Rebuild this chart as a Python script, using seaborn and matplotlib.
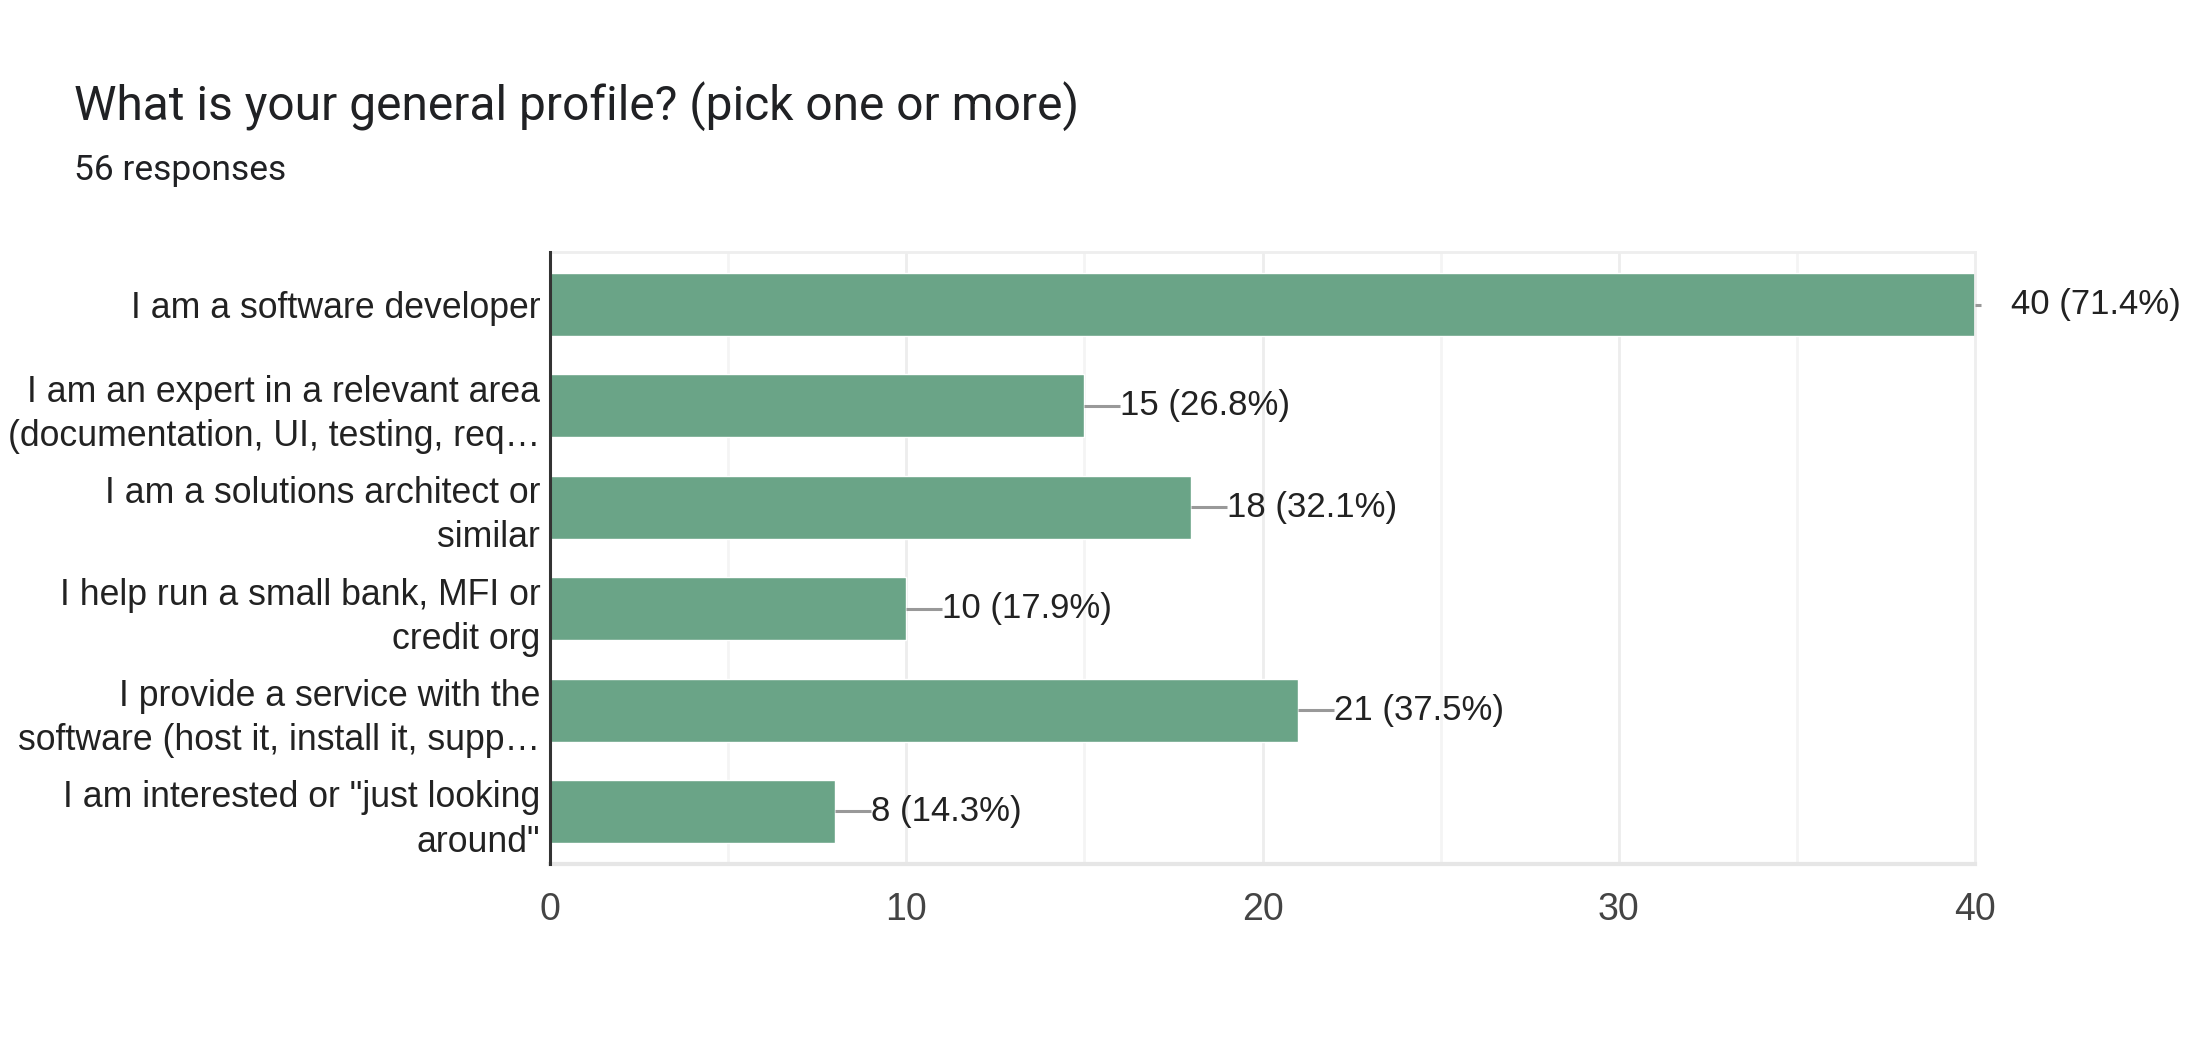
import numpy as np
import pandas as pd
import matplotlib
matplotlib.use('Agg')
import matplotlib.pyplot as plt
import seaborn as sns

# survey answers, top to bottom as in the form chart
categories = [
    "I am a software developer",
    "I am an expert in a relevant area\n(documentation, UI, testing, req\u2026",
    "I am a solutions architect or\nsimilar",
    "I help run a small bank, MFI or\ncredit org",
    "I provide a service with the\nsoftware (host it, install it, supp\u2026",
    "I am interested or \"just looking\naround\"",
]
counts = [40, 15, 18, 10, 21, 8]
total_responses = 56
x_ticks = [0, 10, 20, 30, 40]

title = "What is your general profile? (pick one or more)"
subtitle = f"{total_responses} responses"

df = pd.DataFrame({'answer': categories, 'count': counts})

sns.set_theme(style='white')
plt.rcParams['font.family'] = ['Liberation Sans', 'DejaVu Sans']

W, H, DPI = 2196, 1044, 100
fig = plt.figure(figsize=(W / DPI, H / DPI), dpi=DPI)
ax = fig.add_axes([550 / W, 1 - 864 / H, (1975 - 550) / W, (864 - 252) / H])

sns.barplot(data=df, x='count', y='answer', orient='h', color='#6aa487',
            saturation=1, width=0.62, ax=ax)

ax.set_xlim(0, 40)
ax.set_ylim(5.518, -0.518)
ax.set_xlabel('')
ax.set_ylabel('')

# grid: every 5, light grey
for v in range(5, 40, 5):
    ax.axvline(v, color='#ededed' if v % 10 == 0 else '#f4f4f4', lw=2, zorder=0)

for side in ['top', 'right']:
    ax.spines[side].set_color('#eeeeee')
    ax.spines[side].set_linewidth(2)
ax.spines['bottom'].set_color('#e6e6e6')
ax.spines['bottom'].set_linewidth(3)
ax.spines['left'].set_color('#333333')
ax.spines['left'].set_linewidth(2.2)
ax.spines['left'].set_zorder(5)

ax.set_xticks(x_ticks)
ax.set_xticklabels([str(t) for t in x_ticks])
ax.tick_params(axis='x', length=0, pad=20, labelsize=27, labelcolor='#444444')
ax.tick_params(axis='y', length=0, pad=7, labelsize=25.7, labelcolor='#222222')
for lab in ax.get_yticklabels():
    lab.set_linespacing(1.34)

# value labels with small leader lines
px = 40 / (1975 - 550)  # data units per pixel
for i, c in enumerate(counts):
    lead = 6 if c == max(counts) else 36
    ax.plot([c, c + lead * px], [i, i], color='#999999', lw=2.2,
            solid_capstyle='butt', clip_on=False, zorder=4)
    ax.text(c + 36 * px, i, f"{c} ({c / total_responses * 100:.1f}%)",
            va='center', ha='left', fontsize=25, color='#222222', clip_on=False)

fig.text(74 / W, 1 - 120 / H, title, fontsize=34.5, color='#202124',
         family=['Roboto', 'DejaVu Sans'], va='baseline', ha='left')
fig.text(74 / W, 1 - 180 / H, subtitle, fontsize=25.5, color='#202124',
         family=['Roboto', 'DejaVu Sans'], va='baseline', ha='left')

fig.savefig('out.png', dpi=DPI, facecolor='white')
